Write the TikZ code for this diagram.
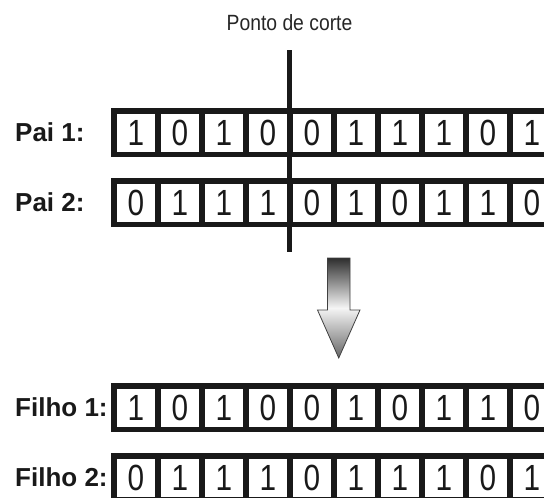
\documentclass[tikz,border=0pt]{standalone}
\usepackage{fontspec}
\usepackage{graphicx}
\setmainfont{Liberation Sans}
\newcommand{\narrowdigit}[1]{\scalebox{0.85}[1.04]{#1}}
\begin{document}
\begin{tikzpicture}[x=1pt,y=-1pt,
  bar/.style={fill=black!90, draw=none, minimum height=49pt, minimum width=450pt, anchor=north west, inner sep=0pt, outer sep=0pt},
  cell/.style={fill=white, draw=none, minimum width=37.5pt, minimum height=38pt, inner sep=0pt, font=\fontsize{35}{35}\selectfont, text=black!90},
  lbl/.style={anchor=west, inner sep=0pt, font=\bfseries\fontsize{26}{26}\selectfont, text=black!90},
  cutline/.style={line width=5.5pt, draw=black!90},
  bigarrow/.style={top color=black!82, bottom color=black!60, middle color=black!4, draw=black!75, line width=0.8pt}
]
\useasboundingbox (0,0) rectangle (544,498);
\clip (0,0) rectangle (544,498);

% title of cut point
\node[font=\fontsize{21}{21}\selectfont, text=black!85, inner sep=0pt] (cutlbl) at (289.5,22.5) {\scalebox{0.92}[1.05]{Ponto de corte}};

% bars
\node[bar] (p1bar) at (110.5,108) {};
\node[bar] (p2bar) at (110.5,178) {};
\node[bar] (f1bar) at (110.5,383) {};
\node[bar] (f2bar) at (110.5,453) {};

% cut line
\coordinate (cuttop) at (289.5,50);
\coordinate (cutbot) at (289.5,252);
\draw[cutline] (cuttop) -- (cutbot);

% labels
\node[lbl] (p1lbl) at (15,132.5) {Pai 1:};
\node[lbl] (p2lbl) at (15,202.5) {Pai 2:};
\node[lbl] (f1lbl) at (15,407.5) {Filho 1:};
\node[lbl] (f2lbl) at (15,477.5) {Filho 2:};

% cells
\foreach \b [count=\i from 0] in {1,0,1,0,0,1,1,1,0,1}
  \node[cell] (p1c\i) at ({136+44*\i},132.5) {\narrowdigit{\b}};
\foreach \b [count=\i from 0] in {0,1,1,1,0,1,0,1,1,0}
  \node[cell] (p2c\i) at ({136+44*\i},202.5) {\narrowdigit{\b}};
\foreach \b [count=\i from 0] in {1,0,1,0,0,1,0,1,1,0}
  \node[cell] (f1c\i) at ({136+44*\i},407.5) {\narrowdigit{\b}};
\foreach \b [count=\i from 0] in {0,1,1,1,0,1,1,1,0,1}
  \node[cell] (f2c\i) at ({136+44*\i},477.5) {\narrowdigit{\b}};

% big down arrow
\shade[bigarrow] (327.5,258) -- (350,258) -- (350,310) -- (360,310) -- (338.75,358) -- (317.5,310) -- (327.5,310) -- cycle;
\end{tikzpicture}
\end{document}
